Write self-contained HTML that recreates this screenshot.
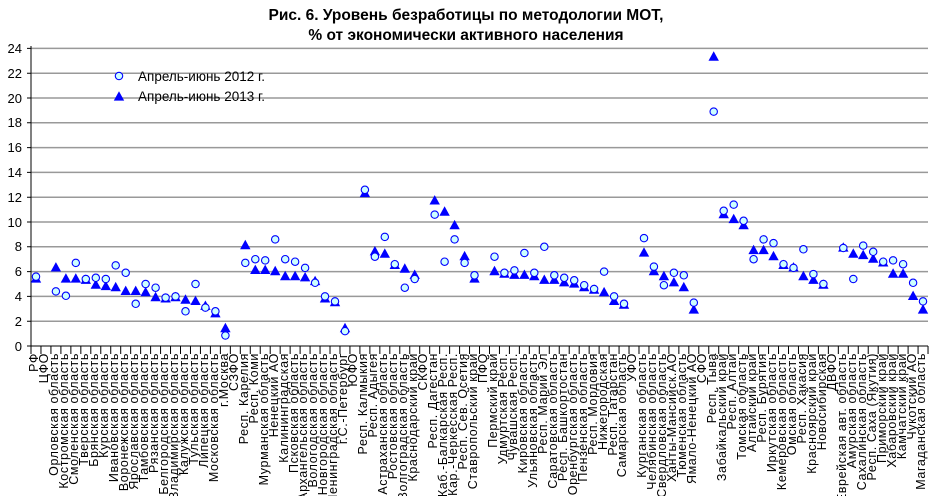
<!DOCTYPE html>
<html><head><meta charset="utf-8"><style>
html,body{margin:0;padding:0;background:#fff}
svg{display:block}
.t{font-family:"Liberation Sans",Arial,sans-serif;font-weight:bold;font-size:15.5px}
.y{font-family:"Liberation Sans",Arial,sans-serif;font-size:13px}
.l{font-family:"Liberation Sans",Arial,sans-serif;font-size:13.5px}
.x text{font-family:"Liberation Sans",Arial,sans-serif;font-size:12.5px;letter-spacing:0.6px;text-anchor:end}
</style></head><body>
<svg width="932" height="496" viewBox="0 0 932 496" xmlns="http://www.w3.org/2000/svg">
<defs>
<circle id="c" cx="0" cy="0" r="3.7" fill="#ccffff" stroke="#0000ff" stroke-width="1.1"/>
<path id="tr" d="M0,-5.8 L5.2,3.6 L-5.2,3.6Z" fill="#0000ff"/>
</defs>
<text class="t" x="466" y="20" text-anchor="middle">Рис. 6. Уровень безработицы по методологии МОТ,</text>
<text class="t" x="466" y="40" text-anchor="middle">% от экономически активного населения</text>
<g stroke="#999" stroke-width="1.5">
<line x1="31" x2="928" y1="48.4" y2="48.4"/><line x1="31" x2="928" y1="73.2" y2="73.2"/><line x1="31" x2="928" y1="98" y2="98"/><line x1="31" x2="928" y1="122.8" y2="122.8"/><line x1="31" x2="928" y1="147.6" y2="147.6"/><line x1="31" x2="928" y1="172.4" y2="172.4"/><line x1="31" x2="928" y1="197.2" y2="197.2"/><line x1="31" x2="928" y1="222" y2="222"/><line x1="31" x2="928" y1="246.8" y2="246.8"/><line x1="31" x2="928" y1="271.6" y2="271.6"/><line x1="31" x2="928" y1="296.4" y2="296.4"/><line x1="31" x2="928" y1="321.2" y2="321.2"/>
</g>
<g stroke="#000" stroke-width="1">
<line x1="31" y1="46" x2="31" y2="346"/>
<line x1="31" y1="346" x2="928" y2="346"/>
<line x1="30.5" y1="350" x2="929" y2="350" stroke-width="8" stroke-dasharray="1 8.967"/>
<path d="M27,48.4h4M27,73.2h4M27,98h4M27,122.8h4M27,147.6h4M27,172.4h4M27,197.2h4M27,222h4M27,246.8h4M27,271.6h4M27,296.4h4M27,321.2h4M27,346h4"/>
</g>
<g class="y" text-anchor="end">
<text x="22" y="53">24</text><text x="22" y="78">22</text><text x="22" y="103">20</text><text x="22" y="127">18</text><text x="22" y="152">16</text><text x="22" y="177">14</text><text x="22" y="202">12</text><text x="22" y="227">10</text><text x="22" y="251">8</text><text x="22" y="276">6</text><text x="22" y="301">4</text><text x="22" y="326">2</text><text x="22" y="351">0</text>
</g>
<use href="#c" x="119" y="76"/><text class="l" x="138" y="81">Апрель-июнь 2012 г.</text>
<use href="#tr" x="119" y="97"/><text class="l" x="138" y="101">Апрель-июнь 2013 г.</text>
<g>
<use href="#tr" x="36" y="279"/><use href="#tr" x="55.9" y="267.9"/><use href="#tr" x="65.9" y="279"/><use href="#tr" x="75.8" y="279"/><use href="#tr" x="85.8" y="280.3"/><use href="#tr" x="95.8" y="285.2"/><use href="#tr" x="105.8" y="286.5"/><use href="#tr" x="115.7" y="287.7"/><use href="#tr" x="125.7" y="291.4"/><use href="#tr" x="135.7" y="291.4"/><use href="#tr" x="145.6" y="292.7"/><use href="#tr" x="155.6" y="297.6"/><use href="#tr" x="165.6" y="298.9"/><use href="#tr" x="175.5" y="297.6"/><use href="#tr" x="185.5" y="300.1"/><use href="#tr" x="195.5" y="301.4"/><use href="#tr" x="205.4" y="306.3"/><use href="#tr" x="215.4" y="313.8"/><use href="#tr" x="225.4" y="328.6"/>
<use href="#tr" x="245.3" y="245.6"/><use href="#tr" x="255.3" y="270.4"/><use href="#tr" x="265.2" y="270.4"/><use href="#tr" x="275.2" y="271.6"/><use href="#tr" x="285.2" y="276.6"/><use href="#tr" x="295.1" y="276.6"/><use href="#tr" x="305.1" y="277.8"/><use href="#tr" x="315.1" y="281.5"/><use href="#tr" x="325" y="298.9"/><use href="#tr" x="335" y="302.6"/><use href="#tr" x="345" y="328.6"/>
<use href="#tr" x="364.9" y="193.5"/><use href="#tr" x="374.9" y="251.8"/><use href="#tr" x="384.8" y="254.2"/><use href="#tr" x="394.8" y="265.4"/><use href="#tr" x="404.8" y="269.1"/><use href="#tr" x="414.7" y="275.3"/>
<use href="#tr" x="434.7" y="200.9"/><use href="#tr" x="444.6" y="212.1"/><use href="#tr" x="454.6" y="225.7"/><use href="#tr" x="464.6" y="256.7"/><use href="#tr" x="474.5" y="279"/>
<use href="#tr" x="494.5" y="271.6"/><use href="#tr" x="504.4" y="274.1"/><use href="#tr" x="514.4" y="275.3"/><use href="#tr" x="524.4" y="275.3"/><use href="#tr" x="534.3" y="276.6"/><use href="#tr" x="544.3" y="280.3"/><use href="#tr" x="554.3" y="280.3"/><use href="#tr" x="564.2" y="282.8"/><use href="#tr" x="574.2" y="284"/><use href="#tr" x="584.2" y="287.7"/><use href="#tr" x="594.1" y="290.2"/><use href="#tr" x="604.1" y="292.7"/><use href="#tr" x="614.1" y="301.4"/><use href="#tr" x="624" y="305.1"/>
<use href="#tr" x="644" y="253"/><use href="#tr" x="653.9" y="271.6"/><use href="#tr" x="663.9" y="276.6"/><use href="#tr" x="673.9" y="282.8"/><use href="#tr" x="683.8" y="287.7"/><use href="#tr" x="693.8" y="310"/>
<use href="#tr" x="713.7" y="57.1"/><use href="#tr" x="723.7" y="214.6"/><use href="#tr" x="733.7" y="219.5"/><use href="#tr" x="743.6" y="225.7"/><use href="#tr" x="753.6" y="250.5"/><use href="#tr" x="763.6" y="250.5"/><use href="#tr" x="773.5" y="256.7"/><use href="#tr" x="783.5" y="265.4"/><use href="#tr" x="793.5" y="267.9"/><use href="#tr" x="803.4" y="276.6"/><use href="#tr" x="813.4" y="280.3"/><use href="#tr" x="823.4" y="285.2"/>
<use href="#tr" x="843.3" y="248"/><use href="#tr" x="853.3" y="254.2"/><use href="#tr" x="863.2" y="255.5"/><use href="#tr" x="873.2" y="259.2"/><use href="#tr" x="883.2" y="262.9"/><use href="#tr" x="893.1" y="274.1"/><use href="#tr" x="903.1" y="274.1"/><use href="#tr" x="913.1" y="296.4"/><use href="#tr" x="923" y="310"/>
</g>
<g>
<use href="#c" x="36" y="276.6"/><use href="#c" x="55.9" y="291.4"/><use href="#c" x="65.9" y="295.8"/><use href="#c" x="75.8" y="262.9"/><use href="#c" x="85.8" y="279"/><use href="#c" x="95.8" y="277.8"/><use href="#c" x="105.8" y="279"/><use href="#c" x="115.7" y="265.4"/><use href="#c" x="125.7" y="272.8"/><use href="#c" x="135.7" y="303.8"/><use href="#c" x="145.6" y="284"/><use href="#c" x="155.6" y="287.7"/><use href="#c" x="165.6" y="297.6"/><use href="#c" x="175.5" y="296.4"/><use href="#c" x="185.5" y="311.3"/><use href="#c" x="195.5" y="284"/><use href="#c" x="205.4" y="307.6"/><use href="#c" x="215.4" y="311.3"/><use href="#c" x="225.4" y="335.5"/>
<use href="#c" x="245.3" y="262.9"/><use href="#c" x="255.3" y="259.2"/><use href="#c" x="265.2" y="260.4"/><use href="#c" x="275.2" y="239.4"/><use href="#c" x="285.2" y="259.2"/><use href="#c" x="295.1" y="261.7"/><use href="#c" x="305.1" y="267.9"/><use href="#c" x="315.1" y="282.8"/><use href="#c" x="325" y="296.4"/><use href="#c" x="335" y="301.4"/><use href="#c" x="345" y="331.1"/>
<use href="#c" x="364.9" y="189.8"/><use href="#c" x="374.9" y="256.7"/><use href="#c" x="384.8" y="236.9"/><use href="#c" x="394.8" y="264.2"/><use href="#c" x="404.8" y="287.7"/><use href="#c" x="414.7" y="279"/>
<use href="#c" x="434.7" y="214.6"/><use href="#c" x="444.6" y="261.7"/><use href="#c" x="454.6" y="239.4"/><use href="#c" x="464.6" y="262.9"/><use href="#c" x="474.5" y="275.3"/>
<use href="#c" x="494.5" y="256.7"/><use href="#c" x="504.4" y="272.8"/><use href="#c" x="514.4" y="270.4"/><use href="#c" x="524.4" y="253"/><use href="#c" x="534.3" y="272.8"/><use href="#c" x="544.3" y="246.8"/><use href="#c" x="554.3" y="275.3"/><use href="#c" x="564.2" y="277.8"/><use href="#c" x="574.2" y="280.3"/><use href="#c" x="584.2" y="285.2"/><use href="#c" x="594.1" y="289"/><use href="#c" x="604.1" y="271.6"/><use href="#c" x="614.1" y="296.4"/><use href="#c" x="624" y="303.8"/>
<use href="#c" x="644" y="238.1"/><use href="#c" x="653.9" y="266.6"/><use href="#c" x="663.9" y="285.2"/><use href="#c" x="673.9" y="272.8"/><use href="#c" x="683.8" y="275.3"/><use href="#c" x="693.8" y="302.6"/>
<use href="#c" x="713.7" y="111.6"/><use href="#c" x="723.7" y="210.8"/><use href="#c" x="733.7" y="204.6"/><use href="#c" x="743.6" y="220.8"/><use href="#c" x="753.6" y="259.2"/><use href="#c" x="763.6" y="239.4"/><use href="#c" x="773.5" y="243.1"/><use href="#c" x="783.5" y="264.2"/><use href="#c" x="793.5" y="267.9"/><use href="#c" x="803.4" y="249.3"/><use href="#c" x="813.4" y="274.1"/><use href="#c" x="823.4" y="284"/>
<use href="#c" x="843.3" y="248"/><use href="#c" x="853.3" y="279"/><use href="#c" x="863.2" y="245.6"/><use href="#c" x="873.2" y="251.8"/><use href="#c" x="883.2" y="261.7"/><use href="#c" x="893.1" y="260.4"/><use href="#c" x="903.1" y="264.2"/><use href="#c" x="913.1" y="282.8"/><use href="#c" x="923" y="301.4"/>
</g>
<g class="x">
<text transform="translate(38,353) rotate(-90)">РФ</text>
<text transform="translate(48,353) rotate(-90)">ЦФО</text>
<text transform="translate(58,353) rotate(-90)">Орловская область</text>
<text transform="translate(68,353) rotate(-90)">Костромская область</text>
<text transform="translate(78,353) rotate(-90)">Смоленская область</text>
<text transform="translate(88,353) rotate(-90)">Тверская область</text>
<text transform="translate(98,353) rotate(-90)">Брянская область</text>
<text transform="translate(108,353) rotate(-90)">Курская область</text>
<text transform="translate(118,353) rotate(-90)">Ивановская область</text>
<text transform="translate(128,353) rotate(-90)">Воронежская область</text>
<text transform="translate(138,353) rotate(-90)">Ярославская область</text>
<text transform="translate(148,353) rotate(-90)">Тамбовская область</text>
<text transform="translate(158,353) rotate(-90)">Рязанская область</text>
<text transform="translate(168,353) rotate(-90)">Белгородская область</text>
<text transform="translate(178,353) rotate(-90)">Владимирская область</text>
<text transform="translate(188,353) rotate(-90)">Калужская область</text>
<text transform="translate(198,353) rotate(-90)">Тульская область</text>
<text transform="translate(208,353) rotate(-90)">Липецкая область</text>
<text transform="translate(218,353) rotate(-90)">Московская область</text>
<text transform="translate(228,353) rotate(-90)">г.Москва</text>
<text transform="translate(238,353) rotate(-90)">СЗФО</text>
<text transform="translate(248,353) rotate(-90)">Респ. Карелия</text>
<text transform="translate(258,353) rotate(-90)">Респ. Коми</text>
<text transform="translate(268,353) rotate(-90)">Мурманская область</text>
<text transform="translate(278,353) rotate(-90)">Ненецкий АО</text>
<text transform="translate(288,353) rotate(-90)">Калининградская</text>
<text transform="translate(298,353) rotate(-90)">Псковская область</text>
<text transform="translate(307,353) rotate(-90)">Архангельская область</text>
<text transform="translate(317,353) rotate(-90)">Вологодская область</text>
<text transform="translate(327,353) rotate(-90)">Новгородская область</text>
<text transform="translate(337,353) rotate(-90)">Ленинградская область</text>
<text transform="translate(347,353) rotate(-90)">г.С.-Петербург</text>
<text transform="translate(357,353) rotate(-90)">ЮФО</text>
<text transform="translate(367,353) rotate(-90)">Респ. Калмыкия</text>
<text transform="translate(377,353) rotate(-90)">Респ. Адыгея</text>
<text transform="translate(387,353) rotate(-90)">Астраханская область</text>
<text transform="translate(397,353) rotate(-90)">Ростовская область</text>
<text transform="translate(407,353) rotate(-90)">Волгоградская область</text>
<text transform="translate(417,353) rotate(-90)">Краснодарский край</text>
<text transform="translate(427,353) rotate(-90)">СКФО</text>
<text transform="translate(437,353) rotate(-90)">Респ. Дагестан</text>
<text transform="translate(447,353) rotate(-90)">Каб.-Балкарская Респ.</text>
<text transform="translate(457,353) rotate(-90)">Кар.-Черкесская Респ.</text>
<text transform="translate(467,353) rotate(-90)">Респ. Сев. Осетия</text>
<text transform="translate(477,353) rotate(-90)">Ставропольский край</text>
<text transform="translate(487,353) rotate(-90)">ПФО</text>
<text transform="translate(497,353) rotate(-90)">Пермский край</text>
<text transform="translate(507,353) rotate(-90)">Удмуртская Респ.</text>
<text transform="translate(517,353) rotate(-90)">Чувашская Респ.</text>
<text transform="translate(527,353) rotate(-90)">Кировская область</text>
<text transform="translate(537,353) rotate(-90)">Ульяновская область</text>
<text transform="translate(547,353) rotate(-90)">Респ. Марий Эл</text>
<text transform="translate(557,353) rotate(-90)">Саратовская область</text>
<text transform="translate(567,353) rotate(-90)">Респ. Башкортостан</text>
<text transform="translate(577,353) rotate(-90)">Оренбургская область</text>
<text transform="translate(587,353) rotate(-90)">Пензенская область</text>
<text transform="translate(597,353) rotate(-90)">Респ. Мордовия</text>
<text transform="translate(607,353) rotate(-90)">Нижегородская</text>
<text transform="translate(617,353) rotate(-90)">Респ. Татарстан</text>
<text transform="translate(626,353) rotate(-90)">Самарская область</text>
<text transform="translate(636,353) rotate(-90)">УФО</text>
<text transform="translate(646,353) rotate(-90)">Курганская область</text>
<text transform="translate(656,353) rotate(-90)">Челябинская область</text>
<text transform="translate(666,353) rotate(-90)">Свердловская область</text>
<text transform="translate(676,353) rotate(-90)">Ханты-Мансийск.АО</text>
<text transform="translate(686,353) rotate(-90)">Тюменская область</text>
<text transform="translate(696,353) rotate(-90)">Ямало-Ненецкий АО</text>
<text transform="translate(706,353) rotate(-90)">СФО</text>
<text transform="translate(716,353) rotate(-90)">Респ. Тыва</text>
<text transform="translate(726,353) rotate(-90)">Забайкальский край</text>
<text transform="translate(736,353) rotate(-90)">Респ. Алтай</text>
<text transform="translate(746,353) rotate(-90)">Томская область</text>
<text transform="translate(756,353) rotate(-90)">Алтайский край</text>
<text transform="translate(766,353) rotate(-90)">Респ. Бурятия</text>
<text transform="translate(776,353) rotate(-90)">Иркутская область</text>
<text transform="translate(786,353) rotate(-90)">Кемеровская область</text>
<text transform="translate(796,353) rotate(-90)">Омская область</text>
<text transform="translate(806,353) rotate(-90)">Респ. Хакасия</text>
<text transform="translate(816,353) rotate(-90)">Красноярский край</text>
<text transform="translate(826,353) rotate(-90)">Новосибирская</text>
<text transform="translate(836,353) rotate(-90)">ДВФО</text>
<text transform="translate(846,353) rotate(-90)">Еврейская авт. область</text>
<text transform="translate(856,353) rotate(-90)">Амурская область</text>
<text transform="translate(866,353) rotate(-90)">Сахалинская область</text>
<text transform="translate(876,353) rotate(-90)">Респ. Саха (Якутия)</text>
<text transform="translate(886,353) rotate(-90)">Приморский край</text>
<text transform="translate(896,353) rotate(-90)">Хабаровский край</text>
<text transform="translate(906,353) rotate(-90)">Камчатский край</text>
<text transform="translate(916,353) rotate(-90)">Чукотский АО</text>
<text transform="translate(925,353) rotate(-90)">Магаданская область</text>
</g>
</svg>
</body></html>
